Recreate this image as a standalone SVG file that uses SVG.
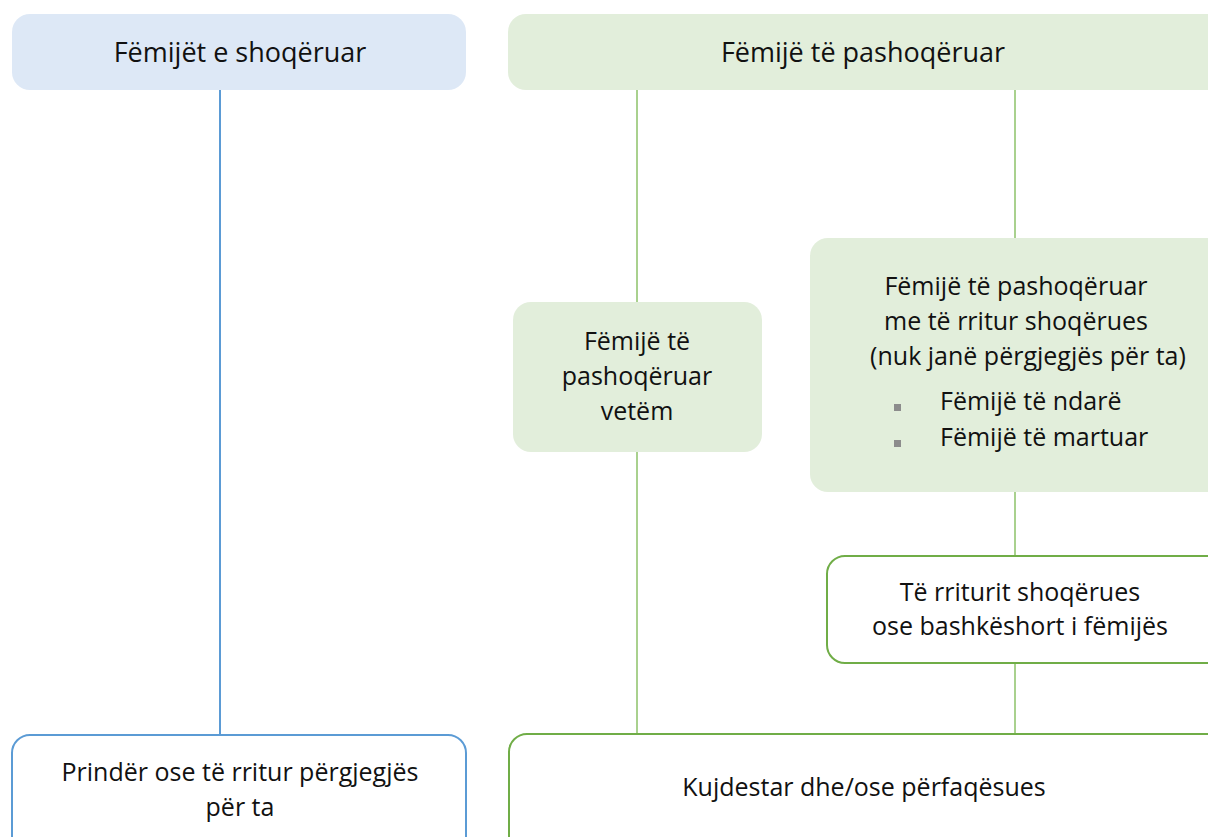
<svg xmlns="http://www.w3.org/2000/svg" width="1208" height="837" viewBox="0 0 1208 837">
<style>
text{font-family:"Open Sans","Noto Sans","Liberation Sans",sans-serif;font-size:25px;fill:#111;text-anchor:middle}
.big{font-size:27px}
.st{text-anchor:start}
.lb{fill:#dde8f6}
.lg{fill:#e2eedb}
.ob{fill:#fff;stroke:#5b9bd5;stroke-width:2}
.og{fill:#fff;stroke:#70ad47;stroke-width:2}
.cb{stroke:#5b9bd5;stroke-width:2;fill:none}
.cg{stroke:#a9d18e;stroke-width:2;fill:none}
.bul{fill:#8c8c8c}
</style>
<g id="connectors">
<line class="cb" x1="220" y1="90" x2="220" y2="735"/>
<line class="cg" x1="637" y1="90" x2="637" y2="734"/>
<line class="cg" x1="1015" y1="90" x2="1015" y2="734"/>
</g>
<g id="n1"><rect class="lb" x="12" y="14" width="454" height="76" rx="18"/><text class="big" x="240" y="62">Fëmijët e shoqëruar</text></g>
<g id="n2"><rect class="lg" x="508" y="14" width="716" height="76" rx="18"/><text class="big" x="863" y="62">Fëmijë të pashoqëruar</text></g>
<g id="n3"><rect class="lg" x="513" y="302" width="249" height="150" rx="18"/>
<text x="637" y="350">Fëmijë të</text><text x="637" y="385">pashoqëruar</text><text x="637" y="420">vetëm</text></g>
<g id="n4"><rect class="lg" x="810" y="238" width="414" height="254" rx="18"/>
<text x="1016" y="295">Fëmijë të pashoqëruar</text><text x="1016" y="330">me të rritur shoqërues</text><text x="1028" y="365">(nuk janë përgjegjës për ta)</text>
<rect class="bul" x="894" y="404" width="7" height="7"/><text class="st" x="940" y="410">Fëmijë të ndarë</text>
<rect class="bul" x="894" y="440" width="7" height="7"/><text class="st" x="940" y="446">Fëmijë të martuar</text></g>
<g id="n5"><rect class="og" x="827" y="556" width="400" height="107" rx="18"/>
<text x="1020" y="601">Të rriturit shoqërues</text><text x="1020" y="635">ose bashkëshort i fëmijës</text></g>
<g id="n6"><rect class="ob" x="12" y="735" width="454" height="120" rx="18"/>
<text x="240" y="781">Prindër ose të rritur përgjegjës</text><text x="240" y="816">për ta</text></g>
<g id="n7"><rect class="og" x="509" y="734" width="720" height="120" rx="18"/>
<text x="864" y="796">Kujdestar dhe/ose përfaqësues</text></g>
</svg>
